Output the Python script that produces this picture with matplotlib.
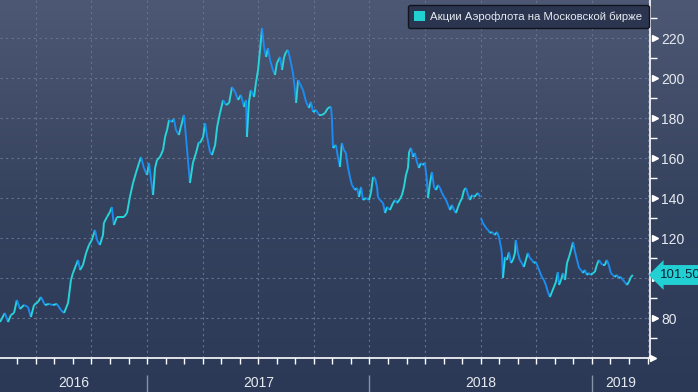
import numpy as np
import matplotlib.pyplot as plt
import matplotlib.transforms as mtransforms
from matplotlib.collections import LineCollection
from matplotlib.colors import LinearSegmentedColormap
from matplotlib.patches import Patch

plt.rcParams['font.family'] = ['Liberation Sans Narrow', 'Liberation Sans', 'DejaVu Sans']

# Время (доли года) и цена акции, руб. -- до дивидендного гэпа 2018
t1 = [2016.339, 2016.361, 2016.375, 2016.388, 2016.402, 2016.415, 2016.429, 2016.447,
      2016.465, 2016.478, 2016.492, 2016.510, 2016.523, 2016.541, 2016.559, 2016.577,
      2016.595, 2016.613, 2016.627, 2016.645, 2016.658, 2016.667, 2016.681, 2016.690,
      2016.699, 2016.712, 2016.726, 2016.739, 2016.752, 2016.766, 2016.775, 2016.788,
      2016.802, 2016.806, 2016.820, 2016.833, 2016.842, 2016.851, 2016.865, 2016.878,
      2016.896, 2016.910, 2016.923, 2016.937, 2016.950, 2016.964, 2016.973, 2016.986,
      2017.000, 2017.009, 2017.018, 2017.027, 2017.036, 2017.045, 2017.058, 2017.072,
      2017.081, 2017.090, 2017.099, 2017.112, 2017.121, 2017.130, 2017.143, 2017.152,
      2017.166, 2017.175, 2017.184, 2017.193, 2017.206, 2017.220, 2017.233, 2017.238,
      2017.252, 2017.261, 2017.270, 2017.283, 2017.292, 2017.306, 2017.315, 2017.328,
      2017.342, 2017.355, 2017.369, 2017.382, 2017.396, 2017.409, 2017.422, 2017.436,
      2017.445, 2017.449, 2017.458, 2017.467, 2017.481, 2017.490, 2017.499, 2017.508,
      2017.517, 2017.526, 2017.535, 2017.544, 2017.553, 2017.566, 2017.575, 2017.584,
      2017.598, 2017.607, 2017.616, 2017.625, 2017.634, 2017.647, 2017.656, 2017.665,
      2017.670, 2017.679, 2017.688, 2017.701, 2017.715, 2017.728, 2017.737, 2017.746,
      2017.760, 2017.773, 2017.787, 2017.800, 2017.813, 2017.827, 2017.831, 2017.836,
      2017.849, 2017.858, 2017.867, 2017.876, 2017.885, 2017.894, 2017.903, 2017.912,
      2017.921, 2017.935, 2017.944, 2017.953, 2017.962, 2017.971, 2017.984, 2017.998,
      2018.007, 2018.016, 2018.025, 2018.034, 2018.038, 2018.047, 2018.061, 2018.070,
      2018.079, 2018.092, 2018.106, 2018.115, 2018.124, 2018.137, 2018.146, 2018.155,
      2018.164, 2018.173, 2018.178, 2018.187, 2018.195, 2018.204, 2018.213, 2018.222,
      2018.231, 2018.240, 2018.249, 2018.258, 2018.263, 2018.272, 2018.281, 2018.290,
      2018.299, 2018.308, 2018.317, 2018.326, 2018.335, 2018.344, 2018.353, 2018.362,
      2018.371, 2018.380, 2018.389, 2018.398, 2018.407, 2018.416, 2018.425, 2018.434,
      2018.443, 2018.452, 2018.461, 2018.470, 2018.479, 2018.488, 2018.497]
p1 = [78, 82.5, 78, 81.5, 82.5, 89, 84.5, 86.5,
      85.5, 80.5, 86.5, 88, 90.5, 86.5, 87, 86.5,
      87, 84, 82.5, 87.5, 99, 102.5, 106.5, 109,
      104, 106.5, 112.5, 116.5, 119, 124, 119, 116.5,
      121.5, 127.5, 130.5, 133, 135.5, 126.5, 130.5, 130.5,
      130.5, 132.5, 140.5, 147.5, 152.5, 157.5, 160.5, 155,
      151.5, 157.5, 149, 141.5, 155, 159, 160.5, 164,
      170.5, 174, 179, 178, 179.5, 174, 171.5, 175.5,
      181.5, 170.5, 159, 147.5, 157.5, 162.5, 168, 167.5,
      170.5, 177.5, 170.5, 163, 161.5, 166.5, 175.5, 182.5,
      189, 186.5, 187.5, 195.5, 193, 189, 191.5, 185.5,
      189, 170.5, 188, 194, 190.5, 198, 204, 214,
      225, 215.5, 210.5, 215, 209, 204, 201.5, 207.5,
      210.5, 204, 210.5, 213, 214, 207.5, 202.5, 194,
      187.5, 199, 197, 194, 188, 185, 188, 183,
      184, 181.5, 181.5, 182.5, 185, 185.5, 180, 165,
      166.5, 160.5, 155.5, 167.5, 164, 162.5, 155.5, 150.5,
      146.5, 144, 145, 140.5, 145.5, 139, 140, 139,
      143, 150.5, 150, 145.5, 140.5, 139, 137.5, 132.5,
      135.5, 134, 137.5, 139, 137.5, 139.5, 141.5, 145.5,
      151.5, 155, 163, 165, 160.5, 162.5, 158, 155,
      157.5, 156.5, 157.5, 149, 140, 147.5, 153, 145.5,
      144, 146.5, 145, 142.5, 140.5, 139, 136.5, 134,
      136.5, 134, 132.5, 135.5, 138, 140, 144, 145,
      141.5, 139, 141.5, 140.5, 141.5, 142.5, 140.5]

# после гэпа
t2 = [2018.501, 2018.510, 2018.524, 2018.533, 2018.542, 2018.551, 2018.564, 2018.573,
      2018.582, 2018.591, 2018.595, 2018.600, 2018.609, 2018.618, 2018.627, 2018.636,
      2018.645, 2018.654, 2018.658, 2018.667, 2018.676, 2018.685, 2018.694, 2018.703,
      2018.712, 2018.721, 2018.730, 2018.739, 2018.748, 2018.757, 2018.766, 2018.775,
      2018.784, 2018.793, 2018.802, 2018.811, 2018.820, 2018.829, 2018.838, 2018.847,
      2018.852, 2018.861, 2018.870, 2018.879, 2018.888, 2018.897, 2018.906, 2018.915,
      2018.924, 2018.933, 2018.942, 2018.951, 2018.960, 2018.969, 2018.977, 2018.986,
      2018.995, 2019.004, 2019.013, 2019.022, 2019.031, 2019.040, 2019.049, 2019.058,
      2019.067, 2019.076, 2019.085, 2019.094, 2019.103, 2019.112, 2019.121, 2019.130,
      2019.139, 2019.148, 2019.157, 2019.166, 2019.175, 2019.184]
p2 = [130, 127.5, 125, 124, 122.5, 123, 121.5, 123,
      120.5, 115.5, 112.5, 100, 110.5, 109, 113, 107.5,
      109, 112.5, 119, 112.5, 109, 107.5, 105.5, 109,
      112.5, 110, 109, 107.5, 108, 105.5, 103, 100.5,
      99, 96.5, 93, 90.5, 93, 95.5, 98, 103,
      96.5, 99, 102.5, 99, 107.5, 110.5, 114, 118,
      113, 109, 105, 104, 102.5, 104, 101.5, 102.5,
      101.5, 102.5, 103, 106.5, 109, 107.5, 106.5, 106.5,
      109, 106.5, 102.5, 101.5, 100.5, 101.5, 100, 100.5,
      99, 98, 96.5, 98, 100.5, 101.5]

yticks = [80, 100, 120, 140, 160, 180, 200, 220]
years = [2016, 2017, 2018, 2019]
legend_label = 'Акции Аэрофлота на Московской бирже'

cyan = '#27d4da'
blue = '#1b8cf2'
x_min, x_max = 2016.339, 2019.261

fig = plt.figure(figsize=(6.98, 3.92), dpi=100)

# фон-градиент
bg = fig.add_axes([0, 0, 1, 1], zorder=-10)
grad = np.linspace(0, 1, 256).reshape(-1, 1)
cmap = LinearSegmentedColormap.from_list('bg', ['#4d5874', '#36435f', '#2b3957'])
bg.imshow(grad, aspect='auto', cmap=cmap, extent=[0, 1, 0, 1], origin='upper')
bg.axis('off')

ax = fig.add_axes([0, 34 / 392, 650 / 698, 358 / 392])
ax.patch.set_alpha(0)


def draw(t, p):
    pts = np.column_stack([t, p])
    segs = np.stack([pts[:-1], pts[1:]], axis=1)
    cols = np.where(np.diff(p) >= 0, cyan, blue)
    ax.add_collection(LineCollection(segs, colors=cols, linewidths=1.4, zorder=3))


draw(t1, p1)
draw(t2, p2)

ax.set_xlim(x_min, x_max)
ax.set_ylim(60, 239)

for s in ['left', 'top']:
    ax.spines[s].set_visible(False)
for s in ['bottom', 'right']:
    ax.spines[s].set_color('white')
    ax.spines[s].set_linewidth(1.2)

ax.set_xticks(np.arange(2016.5, x_max, 0.25))
ax.set_xticks(np.arange(2016 + 5 / 12, x_max, 1 / 12), minor=True)
ax.tick_params(axis='x', which='both', colors='white', length=4, width=1, labelbottom=False)

ax.yaxis.tick_right()
ax.set_yticks(yticks)
ax.set_yticks(np.arange(70, 240, 20), minor=True)
ax.tick_params(axis='y', which='major', length=0, pad=8, labelsize=10, labelcolor='#e6eaf0')
ax.tick_params(axis='y', which='minor', length=5, width=1, colors='white')

ax.grid(True, which='major', color='#67738c', linestyle=(0, (2, 3)), linewidth=0.8)

trans = mtransforms.blended_transform_factory(ax.transAxes, ax.transData)
ax.plot(np.full(len(yticks), 1.007), yticks, ls='none', marker='>', ms=5,
        color='white', transform=trans, clip_on=False)
ax.plot([1.004], [0], marker='>', ms=5, color='white', transform=ax.transAxes, clip_on=False)

# подписи лет
xtrans = ax.get_xaxis_transform()
ax.vlines(years[1:], -0.048, -0.1, colors='#8592aa', linewidth=1, transform=xtrans, clip_on=False)
edges = [x_min] + years[1:] + [x_max]
for i, y in enumerate(years):
    ax.text((edges[i] + edges[i + 1]) / 2, -0.07, str(y), transform=xtrans,
            ha='center', va='center', fontsize=10, color='#e6eaf0')

# метка последнего значения
ax.annotate(f'{p2[-1]:.2f}', xy=(1, p2[-1]), xycoords=trans, xytext=(7, 0),
            textcoords='offset points', ha='left', va='center', fontsize=9.5,
            color='#0c2236', annotation_clip=False, zorder=6,
            bbox=dict(boxstyle='larrow,pad=0.3', fc='#22d0d4', ec='none'))

leg = ax.legend(handles=[Patch(facecolor='#22d0d4', edgecolor='none', label=legend_label)],
                loc='upper right', bbox_to_anchor=(0.998, 0.986), borderaxespad=0,
                fontsize=8.2, frameon=True, fancybox=True, handlelength=0.9,
                handleheight=0.9, handletextpad=0.5, borderpad=0.55)
leg.get_frame().set_facecolor('#2b3550')
leg.get_frame().set_edgecolor('#10141c')
leg.get_frame().set_alpha(1)
for txt in leg.get_texts():
    txt.set_color('#e6eaf0')

fig.savefig('out.png', dpi=100)
